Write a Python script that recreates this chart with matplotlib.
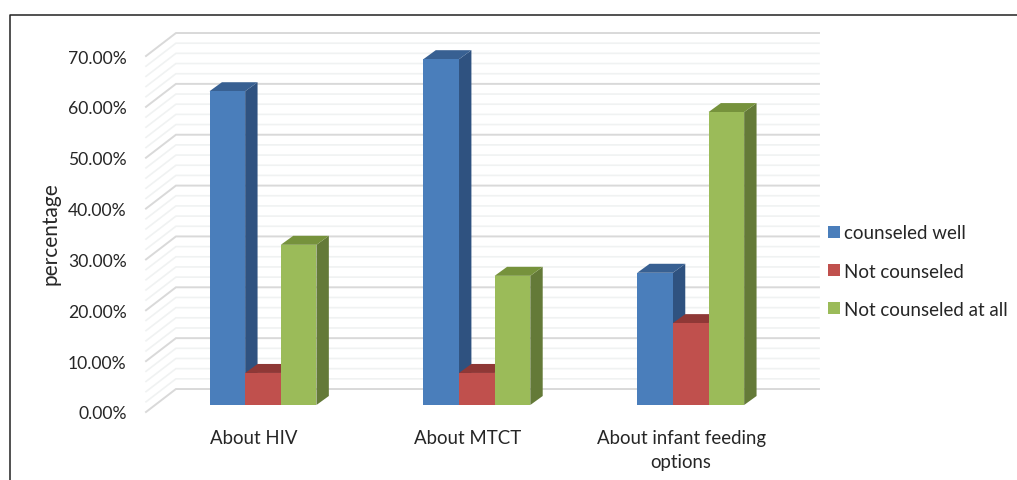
import numpy as np
import matplotlib
matplotlib.use("Agg")
import matplotlib.pyplot as plt
from matplotlib.lines import Line2D
from matplotlib.patches import Patch, Polygon

categories = ["About HIV", "About MTCT", "About infant feeding\noptions"]
counseled_well = [61.7, 68.0, 26.0]
not_counseled = [6.3, 6.3, 16.1]
not_counseled_all = [31.5, 25.4, 57.6]
y_ticks = [0, 10, 20, 30, 40, 50, 60, 70]

series = [
    ("counseled well", counseled_well, "#4a7ebb", "#2f5280", "#386092"),
    ("Not counseled", not_counseled, "#c0504d", "#8f3836", "#8f3836"),
    ("Not counseled at all", not_counseled_all, "#9bbb59", "#647a38", "#76923c"),
]

W, H = 1017, 481
plt.rcParams["font.family"] = ["Lato", "DejaVu Sans"]
TEXT = "#262626"

fig = plt.figure(figsize=(W / 100, H / 100), dpi=100)
# plot area in pixels: left 146, right 819, top 34, bottom 413
ax = fig.add_axes([146 / W, 1 - 413 / H, (819 - 146) / W, (413 - 34) / H])
ax.set_xlim(-0.547, 2.6)
ax.set_ylim(-1.376, 73.15)
for s in ax.spines.values():
    s.set_visible(False)

# 3d offsets in data units
wall_dx, wall_front, wall_back = 0.14, -1.376, 3.146
bar_w = 1 / 6
bar_dx, bar_dy = 0.058, 1.77

# walls: minor every 2%, major every 10%
for v in range(0, 71, 2):
    major = v % 10 == 0
    col = "#d9d9d9" if major else "#f0f2f2"
    lw = 1.4 if major else 1.2
    z = 2 if major else 1
    ax.plot([-0.547, -0.547 + wall_dx, 2.6], [v + wall_front, v + wall_back, v + wall_back],
            color=col, lw=lw, zorder=z, clip_on=False, solid_joinstyle="miter")

# bars
for i, (name, vals, front, side, top) in enumerate(series):
    for j, v in enumerate(vals):
        x0 = j + (i - 1.5) * bar_w
        x1 = x0 + bar_w
        zz = 3 + i * 3
        ax.add_patch(Polygon([(x1, 0), (x1 + bar_dx, bar_dy), (x1 + bar_dx, v + bar_dy), (x1, v)],
                             facecolor=side, edgecolor="none", zorder=zz))
        ax.add_patch(Polygon([(x0, v), (x0 + bar_dx, v + bar_dy), (x1 + bar_dx, v + bar_dy), (x1, v)],
                             facecolor=top, edgecolor="none", zorder=zz))
        ax.bar(x0, v, width=bar_w, align="edge", color=front, linewidth=0, zorder=zz + 1)

ax.set_yticks(np.array(y_ticks) + wall_front, [f"{v:.2f}%" for v in y_ticks])
# category labels sit a little left of the bar groups in the original
ax.set_xticks(np.arange(len(categories)) - 0.045, categories, linespacing=1.5)
ax.tick_params(axis="y", length=0, pad=14, labelsize=12.6, labelcolor=TEXT)
ax.tick_params(axis="x", length=0, pad=12, labelsize=13.4, labelcolor=TEXT)

fig.text(50 / W, 1 - 234 / H, "percentage", rotation=90, ha="center", va="center",
         fontsize=15, color=TEXT)

# legend
handles = [Patch(facecolor=s[2], edgecolor="none", label=s[0]) for s in series]
fig.legend(handles=handles, loc="center left", bbox_to_anchor=(828 / W, 1 - 272 / H),
           frameon=False, fontsize=13.5, labelcolor=TEXT, handlelength=0.62, handleheight=0.62,
           handletextpad=0.22, labelspacing=1.13, borderpad=0, borderaxespad=0)

# frame around the figure (top and left only)
fig.add_artist(Line2D([10 / W, 10 / W, 1], [0, 1 - 15.5 / H, 1 - 15.5 / H], color="#222222", lw=1.1))

fig.savefig("out.png", dpi=100)
